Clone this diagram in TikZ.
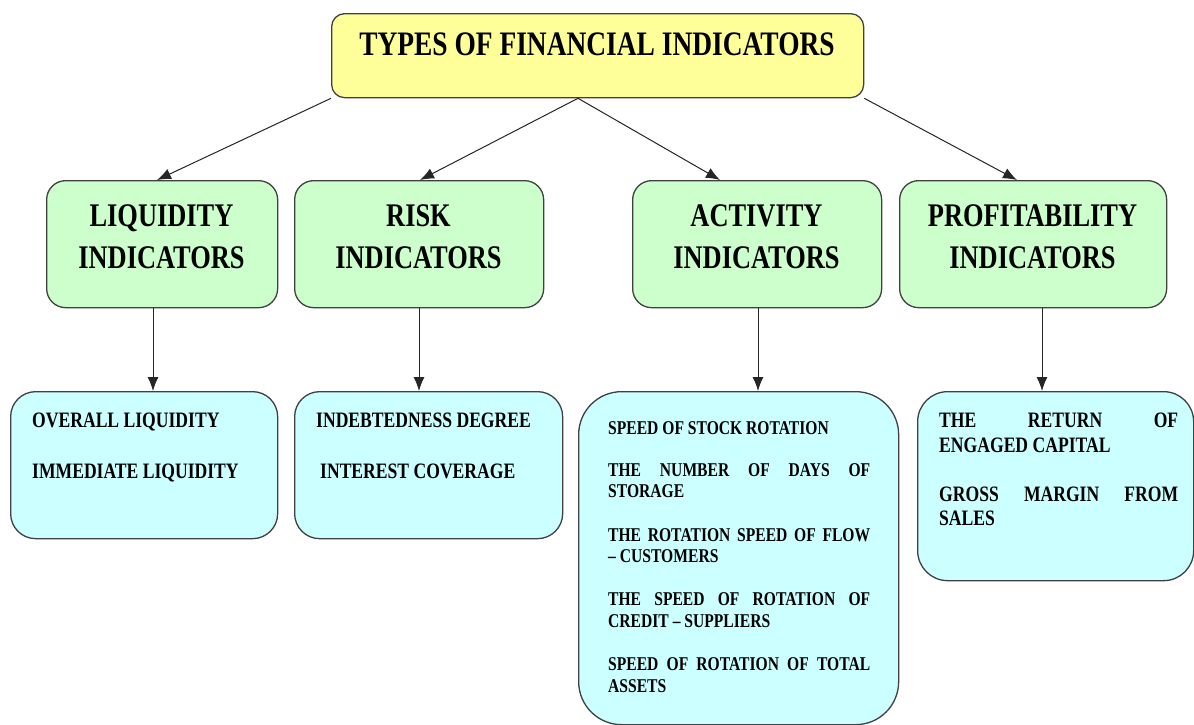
\documentclass[tikz,border=0pt]{standalone}
\usepackage{fontspec}
\usepackage{graphicx}
\setmainfont{Liberation Serif}
\usetikzlibrary{arrows.meta}
\definecolor{ttlc}{HTML}{FFFF99}
\definecolor{grnc}{HTML}{CCFFCC}
\definecolor{cync}{HTML}{CCFFFF}
\definecolor{edgec}{HTML}{404040}
\newcommand{\narrowtxt}[1]{\scalebox{0.8}[1]{#1}}
\newcommand{\justline}[2]{\scalebox{0.8}[1]{\makebox[#1][s]{#2}}}
\begin{document}
\begin{tikzpicture}[x=1pt,y=-1pt,
  box/.style={draw=edgec, line width=1.3pt, inner sep=0pt, anchor=north west},
  ttlbox/.style={box, fill=ttlc, rounded corners=13pt},
  grnbox/.style={box, fill=grnc, rounded corners=19pt},
  cynbox/.style={box, fill=cync},
  txt/.style={inner sep=0pt},
  ttltxt/.style={txt, anchor=base, font=\bfseries\fontsize{34.3}{40}\selectfont},
  hd/.style={txt, anchor=base, font=\bfseries\fontsize{33}{40}\selectfont},
  itm/.style={txt, anchor=base west, font=\bfseries\fontsize{22}{26}\selectfont},
  itms/.style={txt, anchor=base west, font=\bfseries\fontsize{19.5}{23}\selectfont},
  arr/.style={draw=black!85, line width=1pt, -{Latex[length=14pt,width=11pt]}}
]
\useasboundingbox (0,0) rectangle (1194,724);
\fill[white] (0,0) rectangle (1194,724);

% boxes
\node[ttlbox, minimum width=532pt, minimum height=84pt] (ttl) at (331,13) {};
\node[grnbox, minimum width=231pt, minimum height=127pt] (liq) at (46,180) {};
\node[grnbox, minimum width=249pt, minimum height=127pt] (risk) at (294,180) {};
\node[grnbox, minimum width=249pt, minimum height=127pt] (act) at (632,180) {};
\node[grnbox, minimum width=267pt, minimum height=127pt] (prof) at (899,180) {};
\node[cynbox, rounded corners=25pt, minimum width=267pt, minimum height=147pt] (b1) at (10,391) {};
\node[cynbox, rounded corners=25pt, minimum width=268pt, minimum height=147pt] (b2) at (294,391) {};
\node[cynbox, rounded corners=43pt, minimum width=320pt, minimum height=333pt] (b3) at (578,391) {};
\node[cynbox, rounded corners=30pt, minimum width=276pt, minimum height=189pt] (b4) at (917,391) {};

% arrows
\draw[arr] (ttl.south west) -- ([xshift=111pt]liq.north west);
\draw[arr] ([xshift=247pt]ttl.south west) -- ([xshift=126pt]risk.north west);
\draw[arr] ([xshift=247pt]ttl.south west) -- ([xshift=88pt]act.north west);
\draw[arr] (ttl.south east) -- ([xshift=118pt]prof.north west);
\draw[arr] ([xshift=107pt]liq.south west) -- ([xshift=143pt]b1.north west);
\draw[arr] ([xshift=125pt]risk.south west) -- ([xshift=125pt]b2.north west);
\draw[arr] ([xshift=126pt]act.south west) -- ([xshift=180pt]b3.north west);
\draw[arr] ([xshift=143pt]prof.south west) -- ([xshift=125pt]b4.north west);

% title
\node[ttltxt] (t0) at (597,55) {\narrowtxt{TYPES OF FINANCIAL INDICATORS}};

% headings
\node[hd] (liq1) at (161.5,226) {\narrowtxt{LIQUIDITY}};
\node[hd] (liq2) at (161.5,268) {\narrowtxt{INDICATORS}};
\node[hd] (risk1) at (418.5,226) {\narrowtxt{RISK}};
\node[hd] (risk2) at (418.5,268) {\narrowtxt{INDICATORS}};
\node[hd] (act1) at (756.5,226) {\narrowtxt{ACTIVITY}};
\node[hd] (act2) at (756.5,268) {\narrowtxt{INDICATORS}};
\node[hd] (prof1) at (1032.5,226) {\narrowtxt{PROFITABILITY}};
\node[hd] (prof2) at (1032.5,268) {\narrowtxt{INDICATORS}};

% box 1
\node[itm] (b1a) at (32,427) {\narrowtxt{OVERALL LIQUIDITY}};
\node[itm] (b1b) at (32,478) {\narrowtxt{IMMEDIATE LIQUIDITY}};
% box 2
\node[itm] (b2a) at (316,427) {\narrowtxt{INDEBTEDNESS DEGREE}};
\node[itm] (b2b) at (320,478) {\narrowtxt{INTEREST COVERAGE}};
% box 3
\node[itms] (b3a) at (608,434) {\narrowtxt{SPEED OF STOCK ROTATION}};
\node[itms] (b3b) at (608,476) {\justline{327.5pt}{THE NUMBER OF DAYS OF}};
\node[itms] (b3c) at (608,497) {\narrowtxt{STORAGE}};
\node[itms] (b3d) at (608,541) {\justline{327.5pt}{THE ROTATION SPEED OF FLOW}};
\node[itms] (b3e) at (608,562) {\narrowtxt{– CUSTOMERS}};
\node[itms] (b3f) at (608,605) {\justline{327.5pt}{THE SPEED OF ROTATION OF}};
\node[itms] (b3g) at (608,627) {\narrowtxt{CREDIT – SUPPLIERS}};
\node[itms] (b3h) at (608,670) {\justline{327.5pt}{SPEED OF ROTATION OF TOTAL}};
\node[itms] (b3i) at (608,692) {\narrowtxt{ASSETS}};
% box 4
\node[itm] (b4a) at (939,427) {\justline{298.75pt}{THE RETURN OF}};
\node[itm] (b4b) at (939,452) {\narrowtxt{ENGAGED CAPITAL}};
\node[itm] (b4c) at (939,501) {\justline{298.75pt}{GROSS MARGIN FROM}};
\node[itm] (b4d) at (939,525) {\narrowtxt{SALES}};
\end{tikzpicture}
\end{document}
